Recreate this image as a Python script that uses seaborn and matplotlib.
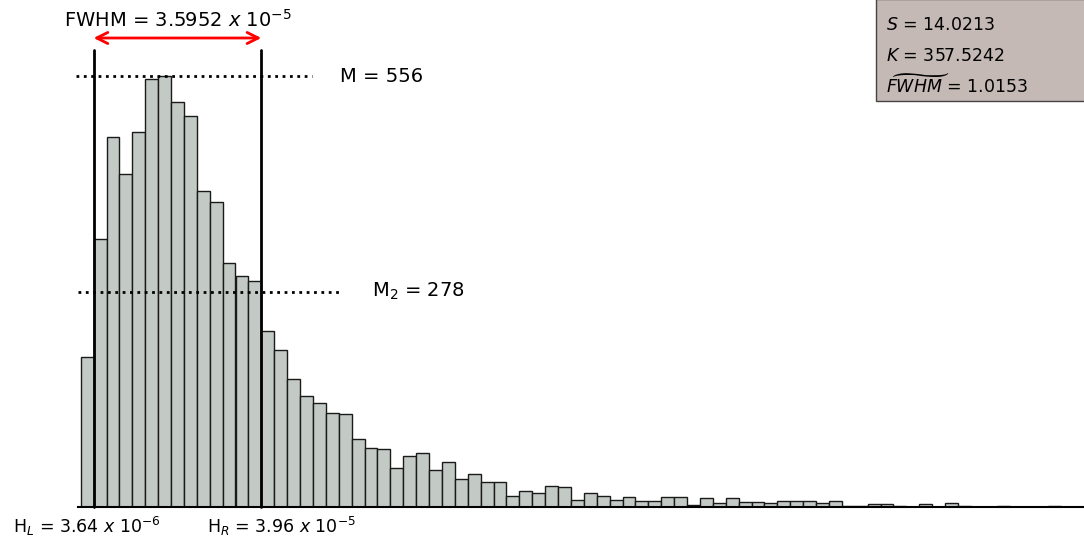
import numpy as np
import pandas as pd
import matplotlib
matplotlib.use("Agg")
import matplotlib.pyplot as plt
from matplotlib.patches import Rectangle
import seaborn as sns

sns.set_theme(style="white")
plt.rcParams['font.family'] = ['DejaVu Sans']
plt.rcParams['text.color'] = 'black'

counts = [194, 346, 477, 430, 484, 552, 556, 522, 504, 408,
          394, 315, 298, 292, 227, 203, 166, 143, 134, 122,
          120, 88, 76, 75, 51, 66, 70, 48, 59, 36,
          43, 32, 33, 15, 21, 19, 27, 26, 10, 19,
          14, 9, 13, 8, 8, 13, 13, 3, 12, 5,
          12, 7, 7, 6, 8, 8, 8, 5, 8, 2,
          2, 4, 4, 2, 1, 4, 0, 5, 2, 0,
          0, 2, 0, 0, 0, 2, 0, 0]
h_left = 3.64e-6
h_right = 3.96e-5
fwhm = 3.5952e-5
peak = 556
half_peak = 278
stats_S = 14.0213
stats_K = 357.5242
stats_fwhm = 1.0153

# Bins: H_L y H_R caen sobre bordes de bin (13 bins entre ellos)
bin_w = (h_right - h_left) / 13
x0 = h_left - bin_w
edges = x0 + bin_w * np.arange(len(counts) + 1)
df = pd.DataFrame({"x": (edges[:-1] + edges[1:]) / 2, "w": counts})

W, H = 1084, 538
fig = plt.figure(figsize=(W / 100, H / 100), dpi=100)
ax = fig.add_axes([78 / W, 1 - 507.3 / H, 1 - 78 / W, 507.3 / H])

sns.histplot(data=df, x="x", weights="w", binwidth=bin_w,
             binrange=(edges[0], edges[-1]), color="#c3cac5",
             edgecolor="#1a1a1a", linewidth=1.0, alpha=1, ax=ax)

px = bin_w / 12.9  # data units per pixel
ax.set_xlim(x0 - 2.7 * px, x0 + (W - 80.7) * px)
ax.set_ylim(0, 507.3 / 0.7757)
cnt = lambda ypix: (507.3 - ypix) / 0.7757

for s in ["left", "top", "right"]:
    ax.spines[s].set_visible(False)
ax.spines["bottom"].set_color("black")
ax.spines["bottom"].set_linewidth(1.5)
ax.set_xticks([])
ax.set_yticks([])
ax.set_xlabel("")
ax.set_ylabel("")

# Lineas verticales H_L, H_R
for hx in (h_left, h_right):
    ax.plot([hx, hx], [0, cnt(50)], color="black", lw=2, clip_on=False)

# Flecha FWHM
ax.annotate("", xy=(h_right, cnt(38)), xytext=(h_left, cnt(38)),
            arrowprops=dict(arrowstyle="<->", color="red", lw=2,
                            mutation_scale=20, shrinkA=0, shrinkB=0),
            annotation_clip=False)
ax.text((h_left + h_right) / 2, cnt(20),
        "FWHM = %.4f $x$ $10^{-5}$" % (fwhm * 1e5),
        ha="center", va="center", fontsize=14, color="black")

# Lineas punteadas M y M2
ax.plot([x0 - 4.7 * px, x0 + 231.3 * px], [peak, peak], color="black",
        ls=":", lw=2, clip_on=False)
ax.plot([x0 - 2.7 * px, x0 + 259.3 * px], [half_peak, half_peak],
        color="black", ls=":", lw=2, clip_on=False)
ax.text(x0 + 259.3 * px, peak, "M = %d" % peak, ha="left", va="center",
        fontsize=14, color="black")
ax.text(x0 + 291.3 * px, half_peak, "M$_2$ = %d" % half_peak, ha="left",
        va="center", fontsize=14, color="black")

# Etiquetas inferiores
fig.text(13 / W, 1 - 526 / H, "H$_L$ = 3.64 $x$ $10^{-6}$", ha="left",
         va="center", fontsize=12.5, color="black")
fig.text(207 / W, 1 - 526 / H, "H$_R$ = 3.96 $x$ $10^{-5}$", ha="left",
         va="center", fontsize=12.5, color="black")

# Caja de estadisticos
fig.patches.append(Rectangle((876 / W, 1 - 101 / H), 300 / W, 102 / H,
                             transform=fig.transFigure, facecolor="#c4b9b5",
                             edgecolor="#444444", lw=1, zorder=5))
fig.text(886 / W, 1 - 25 / H, "$S$ = %.4f" % stats_S, ha="left", va="center",
         fontsize=12.5, zorder=6, color="black")
fig.text(886 / W, 1 - 56 / H, "$K$ = %.4f" % stats_K, ha="left", va="center",
         fontsize=12.5, zorder=6, color="black")
fig.text(886 / W, 1 - 86 / H, r"$\widetilde{FWHM}$ = %.4f" % stats_fwhm,
         ha="left", va="center", fontsize=12.5, zorder=6, color="black")

fig.savefig("out.png", dpi=100)
